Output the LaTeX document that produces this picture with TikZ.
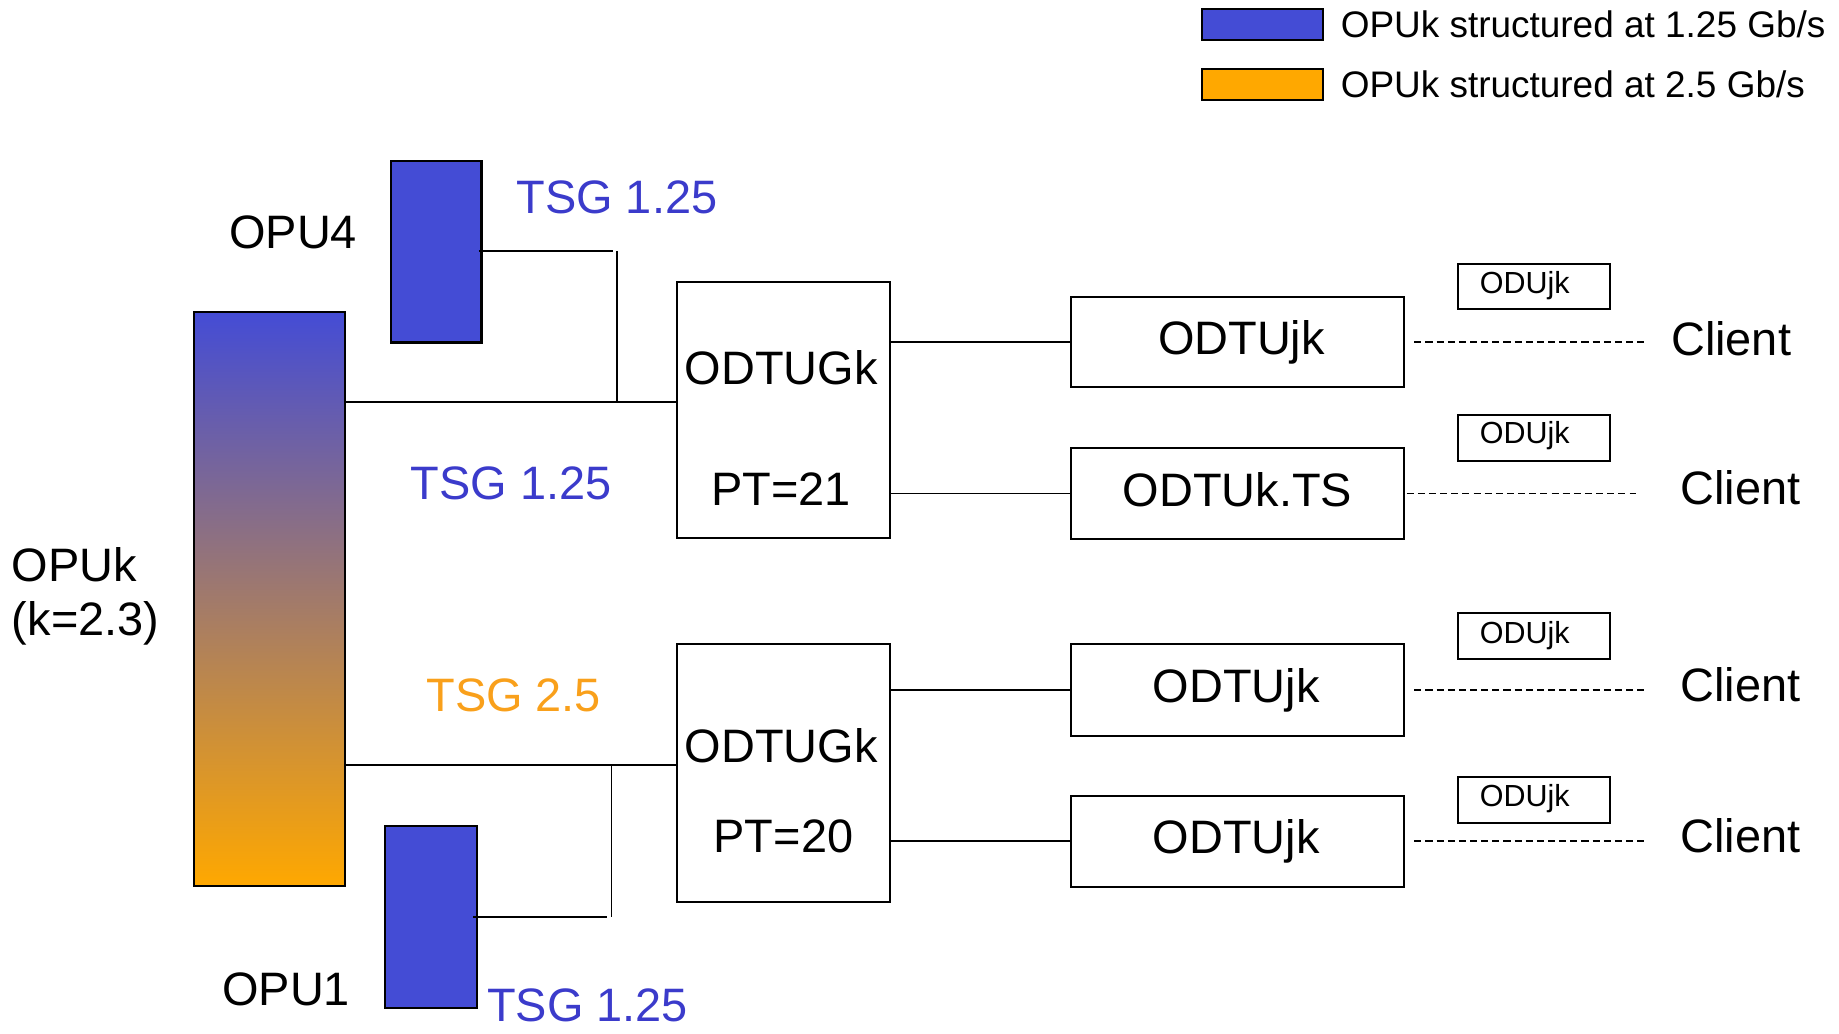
\documentclass[tikz,border=0pt]{standalone}
\usepackage{fontspec}
\setmainfont{Liberation Sans}
\definecolor{opublue}{HTML}{444CD5}
\definecolor{opuorange}{HTML}{FFA800}
\definecolor{tsgblue}{HTML}{3B3BCB}
\definecolor{tsgorange}{HTML}{F9A01B}
\begin{document}
\begin{tikzpicture}[x=1pt,y=-1pt,
  box/.style={draw=black, line width=1.8pt, inner sep=0pt},
  bluebox/.style={box, fill=opublue},
  lbl/.style={inner sep=0pt, anchor=base, font=\fontsize{40}{48}\selectfont},
  leglbl/.style={inner sep=0pt, anchor=base west, font=\fontsize{31.5}{38}\selectfont},
  odulbl/.style={inner sep=0pt, anchor=base, font=\fontsize{26}{31}\selectfont},
  conn/.style={line width=1.6pt},
  vconn/.style={line width=1.3pt},
  dashline/.style={line width=1.5pt, dash pattern=on 6pt off 3.5pt}]
\useasboundingbox (0,0) rectangle (1568,881);
% legend
\node[bluebox, minimum width=103pt, minimum height=26pt] (leg1) at (1076.5,21) {};
\node[box, fill=opuorange, minimum width=103pt, minimum height=26pt] (leg2) at (1076.5,72) {};
\node[leglbl] (legt1) at (1143,32) {OPUk structured at 1.25 Gb/s};
\node[leglbl] (legt2) at (1143,83) {OPUk structured at 2.5 Gb/s};
% OPU rectangles
\node[bluebox, minimum width=77.5pt, minimum height=155pt] (opu4) at (371.75,214.5) {};
\node[box, top color=opublue, bottom color=opuorange, minimum width=129pt, minimum height=489.5pt] (opuk) at (230,510.75) {};
\node[bluebox, minimum width=78pt, minimum height=155pt] (opu1) at (367.5,781.75) {};
% ODTUGk boxes
\node[box, minimum width=181pt, minimum height=218.8pt] (odtug1) at (668,349.6) {};
\node[box, minimum width=181pt, minimum height=219.4pt] (odtug2) at (668,659.1) {};
% ODTU boxes
\node[box, minimum width=284pt, minimum height=77pt] (odtu1) at (1055,291.5) {};
\node[box, minimum width=284pt, minimum height=77.5pt] (odtu2) at (1055,420.75) {};
\node[box, minimum width=284pt, minimum height=77.8pt] (odtu3) at (1055,588.3) {};
\node[box, minimum width=284pt, minimum height=77.5pt] (odtu4) at (1055,717.15) {};
% ODUjk boxes
\node[box, line width=1.6pt, minimum width=129.6pt, minimum height=38.7pt] (odu1) at (1308.2,244.35) {};
\node[box, line width=1.6pt, minimum width=129.6pt, minimum height=39pt] (odu2) at (1308.2,373.2) {};
\node[box, line width=1.6pt, minimum width=129.6pt, minimum height=39.2pt] (odu3) at (1308.2,542.6) {};
\node[box, line width=1.6pt, minimum width=129.6pt, minimum height=39.3pt] (odu4) at (1308.2,682.35) {};
% labels
\node[lbl, text=tsgblue] (tsg1) at (526,182) {TSG 1.25};
\node[lbl] (topu4) at (250,212) {OPU4};
\node[lbl] (tg1a) at (666,328) {ODTUGk};
\node[lbl] (tg1b) at (666,431) {PT=21};
\node[lbl, text=tsgblue] (tsg2) at (436,426) {TSG 1.25};
\node[lbl, anchor=base west] (topuk) at (10,496) {OPUk};
\node[lbl, anchor=base west] (topuk2) at (10,542) {(k=2.3)};
\node[lbl, text=tsgorange] (tsg3) at (438,607) {TSG 2.5};
\node[lbl] (tg2a) at (666,650) {ODTUGk};
\node[lbl] (tg2b) at (668,727) {PT=20};
\node[lbl] (topu1) at (244,857) {OPU1};
\node[lbl, text=tsgblue] (tsg4) at (501,871) {TSG 1.25};
\node[lbl] (t1) at (1058.5,302) {ODTUjk};
\node[lbl] (t2) at (1055,432) {ODTUk.TS};
\node[lbl] (t3) at (1054,599) {ODTUjk};
\node[lbl] (t4) at (1054,727.5) {ODTUjk};
\node[lbl] (client1) at (1476,303) {Client};
\node[lbl] (client2) at (1484,430) {Client};
\node[lbl] (client3) at (1484,598) {Client};
\node[lbl] (client4) at (1484,726.6) {Client};
\node[odulbl] (o1) at (1300,250) {ODUjk};
\node[odulbl] (o2) at (1300,378) {ODUjk};
\node[odulbl] (o3) at (1300,548.5) {ODUjk};
\node[odulbl] (o4) at (1300,688) {ODUjk};
% connectors, upper group
\coordinate (ja) at (526,343);
\coordinate (jt) at (526,214);
\coordinate (jte) at (522.5,214);
\draw[conn] (opuk.east |- ja) -- (odtug1.west |- ja);
\draw[conn] ([xshift=-3pt]opu4.east |- jte) -- (jte);
\draw[vconn] (jt) -- (ja);
% connectors, lower group
\coordinate (jb) at (521.5,652.5);
\coordinate (jc) at (521.5,781.6);
\coordinate (jce) at (517.5,781.6);
\draw[conn] (opuk.east |- jb) -- (odtug2.west |- jb);
\draw[vconn] (jb) -- (jc);
\draw[conn] ([xshift=-4pt]opu1.east |- jce) -- (jce);
% ODTUGk to ODTU
\draw[conn] (odtug1.east |- odtu1.west) -- (odtu1.west);
\draw[conn] (odtug1.east |- odtu2.west) -- (odtu2.west);
\draw[conn] (odtug2.east |- odtu3.west) -- (odtu3.west);
\draw[conn] (odtug2.east |- odtu4.west) -- (odtu4.west);
% dashed to clients
\draw[dashline] ([xshift=8pt]odtu1.east) -- ([xshift=-22.5pt]client1.west |- odtu1.east);
\draw[dashline] ([xshift=1.5pt]odtu2.east) -- ([xshift=-38pt]client2.west |- odtu2.east);
\draw[dashline] ([xshift=8pt]odtu3.east) -- ([xshift=-31pt]client3.west |- odtu3.east);
\draw[dashline] ([xshift=8pt]odtu4.east) -- ([xshift=-31pt]client4.west |- odtu4.east);
\end{tikzpicture}
\end{document}
